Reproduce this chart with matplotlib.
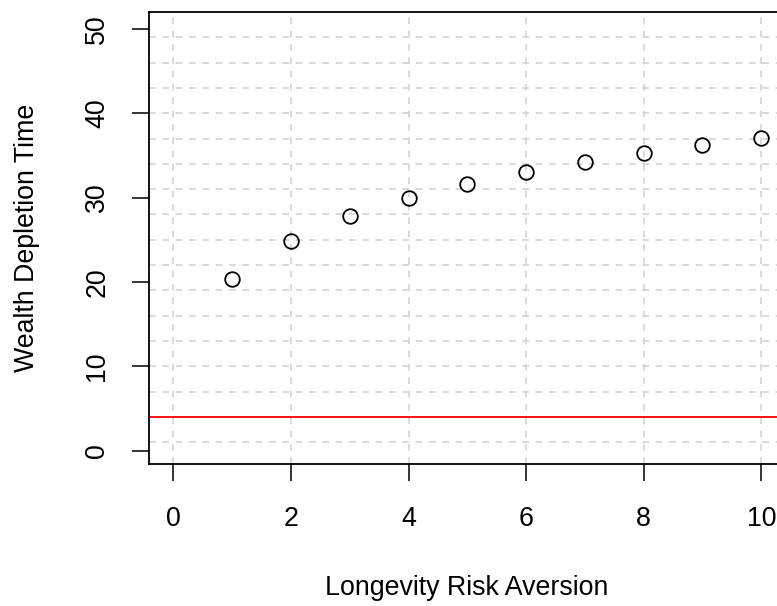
import numpy as np
import matplotlib
matplotlib.use("Agg")
import matplotlib.pyplot as plt

plt.rcParams["font.family"] = ["Liberation Sans", "DejaVu Sans"]

# data
aversion = [1, 2, 3, 4, 5, 6, 7, 8, 9, 10]
depletion_time = [20.3, 24.9, 27.8, 29.95, 31.6, 33.0, 34.2, 35.3, 36.2, 37.1]
threshold = 4

x_ticks = [0, 2, 4, 6, 8, 10]
y_ticks = [0, 10, 20, 30, 40, 50]
grid_y = list(range(1, 50, 3))

fig = plt.figure(figsize=(7.77, 6.06), dpi=100)
ax = fig.add_axes([0.1918, 0.2335, 0.8182, 0.7472])

ax.set_xlim(-0.416, 10.4)
ax.set_ylim(-1.66, 52.06)

# dashed grid, R-style
for gx in x_ticks:
    ax.axvline(gx, color="#D3D3D3", lw=1.2, ls=(0, (4, 4)), zorder=0)
for gy in grid_y:
    ax.axhline(gy, color="#D3D3D3", lw=1.2, ls=(0, (4, 4)), zorder=0)

ax.axhline(threshold, color="#FF0000", lw=1.3, zorder=1)

ax.plot(aversion, depletion_time, ls="none", marker="o", ms=10.5,
        mfc="none", mec="black", mew=1.3, zorder=2)

ax.set_xticks(x_ticks)
ax.set_yticks(y_ticks)
ax.set_yticklabels([str(v) for v in y_ticks], rotation=90, va="center")
ax.tick_params(axis="both", labelsize=19.3, length=12, width=1.1, color="black")
ax.tick_params(axis="x", pad=18)
ax.tick_params(axis="y", pad=16)

for s in ax.spines.values():
    s.set_linewidth(1.3)

ax.set_xlabel("Longevity Risk Aversion", fontsize=19.3, labelpad=31)
ax.set_ylabel("Wealth Depletion Time", fontsize=19.3, labelpad=32)

fig.savefig("out.png", dpi=100)
